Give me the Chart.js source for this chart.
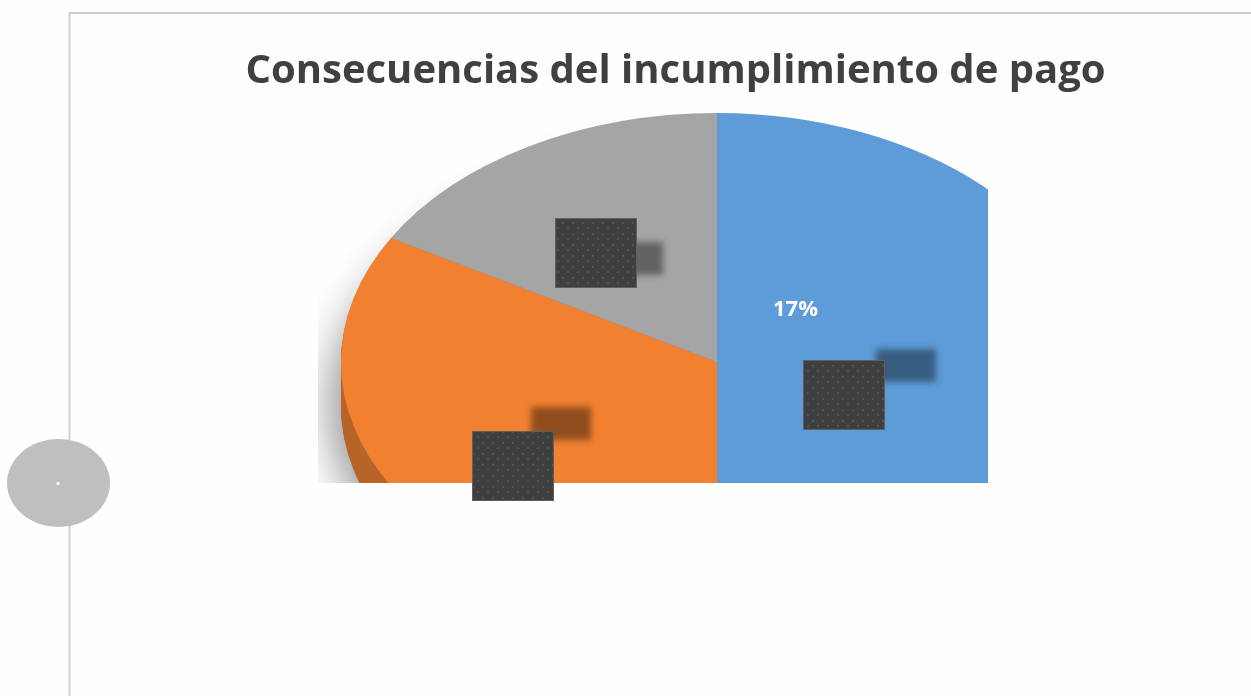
<!DOCTYPE html>
<html>
<head>
<meta charset="utf-8">
<style>
  html, body { margin: 0; padding: 0; background: #fefefe; overflow: hidden; }
  canvas { display: block; }
</style>
<script src="https://cdn.jsdelivr.net/npm/chart.js@4"></script>
</head>
<body>
<canvas id="chart" width="1251" height="696"></canvas>
<script>
const titleText = "Consecuencias del incumplimiento de pago";
const categories = ["A", "B", "C"];
const values = [50, 33.3, 16.7];
const topColors = ["#5d9cd8", "#f28031", "#a5a5a5"];
const sideColors = ["#3f6f9e", "#b9652a", "#7c7c7c"];
const shownLabelIndex = 2;

// the reference pie is a tilted ellipse, cropped by a frame
const pie = { cx: 717, cy: 362, rx: 376, ry: 249, depth: 44 };
const crop = { left: 318, top: 100, right: 988, bottom: 483 };

// blacked out labels and their blurred shadows
const hiddenBoxes = [[555, 218], [803, 360], [472, 431]];
const hiddenShadows = [[603, 242], [876, 349], [531, 407]];

function piePath(ctx, chart) {
  const arc = chart.getDatasetMeta(0).data[0];
  ctx.translate(pie.cx, pie.cy);
  ctx.scale(pie.rx / arc.outerRadius, pie.ry / arc.outerRadius);
  ctx.translate(-arc.x, -arc.y);
}

function drawSide(ctx, chart, dy, colored) {
  const arcs = chart.getDatasetMeta(0).data;
  arcs.forEach((arc, i) => {
    ctx.save();
    ctx.translate(0, dy);
    piePath(ctx, chart);
    const saved = arc.options;
    arc.options = Object.assign({}, saved, { backgroundColor: colored ? sideColors[i] : "#888" });
    arc.draw(ctx);
    arc.options = saved;
    ctx.restore();
  });
}

const framePlugin = {
  id: "frame",
  beforeDraw(chart) {
    const ctx = chart.ctx;
    ctx.save();
    ctx.fillStyle = "#fefefe";
    ctx.fillRect(0, 0, chart.width, chart.height);
    ctx.strokeStyle = "#cfcfcf";
    ctx.lineWidth = 2;
    ctx.beginPath();
    ctx.moveTo(69.5, 696);
    ctx.lineTo(69.5, 13);
    ctx.lineTo(1251, 13);
    ctx.stroke();
    ctx.fillStyle = "#bfbfbf";
    ctx.beginPath();
    ctx.ellipse(58.5, 483, 51.5, 44, 0, 0, Math.PI * 2);
    ctx.fill();
    ctx.fillStyle = "#ffffff";
    ctx.font = "bold 18px 'Open Sans'";
    ctx.textAlign = "center";
    ctx.fillText(".", 58, 485);
    ctx.restore();
  },
  beforeDatasetsDraw(chart) {
    const ctx = chart.ctx;
    ctx.save();
    ctx.beginPath();
    ctx.rect(crop.left, crop.top, crop.right - crop.left, crop.bottom - crop.top);
    ctx.clip();
    // soft shadow first, then the pie wall, then the top face from the library
    ctx.save();
    ctx.shadowColor = "rgba(0,0,0,0.4)";
    ctx.shadowBlur = 42;
    ctx.shadowOffsetX = -12;
    ctx.shadowOffsetY = 22;
    drawSide(ctx, chart, pie.depth / 2, false);
    ctx.restore();
    for (let dy = pie.depth; dy > 0; dy--) drawSide(ctx, chart, dy, true);
    piePath(ctx, chart);
  },
  afterDatasetsDraw(chart) {
    const ctx = chart.ctx;
    ctx.restore();
    ctx.save();
    ctx.fillStyle = "#ffffff";
    ctx.font = "bold 22px 'Open Sans'";
    ctx.textAlign = "left";
    ctx.textBaseline = "middle";
    ctx.fillText(Math.round(values[shownLabelIndex]) + "%", 773, 310);

    ctx.filter = "blur(3px)";
    ctx.fillStyle = "rgba(0,0,0,0.4)";
    hiddenShadows.forEach(([x, y]) => ctx.fillRect(x, y, 60, 33));
    ctx.filter = "none";

    const tile = document.createElement("canvas");
    tile.width = 10;
    tile.height = 11;
    const t = tile.getContext("2d");
    t.fillStyle = "#3f3f3f";
    t.fillRect(0, 0, 10, 11);
    t.fillStyle = "#525252";
    t.fillRect(2, 2, 2, 2);
    t.fillRect(7, 7, 2, 2);
    const dots = ctx.createPattern(tile, "repeat");
    hiddenBoxes.forEach(([x, y]) => {
      ctx.fillStyle = dots;
      ctx.fillRect(x, y, 82, 70);
      ctx.strokeStyle = "#5f5f5f";
      ctx.lineWidth = 1;
      ctx.strokeRect(x + 0.5, y + 0.5, 81, 69);
    });
    ctx.restore();
  }
};

new Chart(document.getElementById("chart"), {
  type: "pie",
  data: {
    labels: categories,
    datasets: [{ data: values, backgroundColor: topColors, borderWidth: 0, clip: false }]
  },
  options: {
    responsive: false,
    animation: false,
    layout: { padding: { left: 100, top: 48 } },
    plugins: {
      legend: { display: false },
      title: {
        display: true,
        text: titleText,
        color: "#404040",
        font: { family: "'Open Sans'", size: 40, weight: "bold" },
        padding: { top: 0, bottom: 10 }
      }
    }
  },
  plugins: [framePlugin]
});
</script>
</body>
</html>
